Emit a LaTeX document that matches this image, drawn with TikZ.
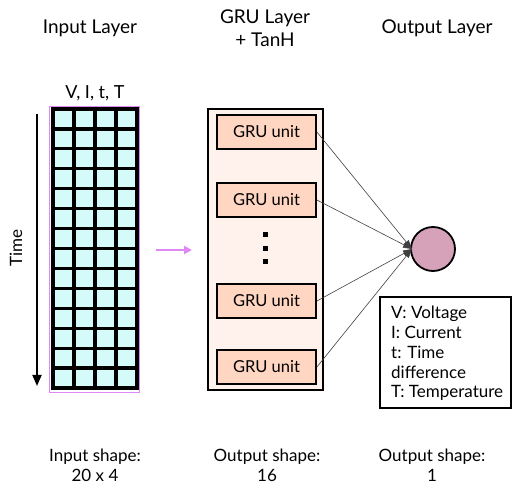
\documentclass[tikz,border=0pt]{standalone}
\usepackage{fontspec}
\setmainfont{Lato}
\usetikzlibrary{arrows.meta}
\definecolor{cellc}{HTML}{D4FAFA}
\definecolor{gruout}{HTML}{FFF1EC}
\definecolor{gruin}{HTML}{FFD6C2}
\definecolor{outc}{HTML}{D6A2BA}
\definecolor{pinkc}{HTML}{DD88F5}
\tikzset{
  title/.style={font=\fontsize{19}{23}\selectfont, align=center},
  shapelbl/.style={font=\fontsize{17}{20}\selectfont, align=center},
  gruunit/.style={draw, line width=1.8pt, fill=gruin, minimum width=99pt, minimum height=34pt, inner sep=0pt, font=\fontsize{16.5}{19}\selectfont},
  conn/.style={draw=black!75, line width=0.6pt, -{Triangle[length=9pt,width=6pt]}},
}
\begin{document}
\begin{tikzpicture}[x=1pt,y=-1pt]
\useasboundingbox (0,0) rectangle (512,489);
% titles
\node[title] (t1) at (90,28) {Input Layer};
\node[title] (t2) at (265,28) {GRU Layer\\+ TanH};
\node[title] (t3) at (437,28) {Output Layer};
% input grid
\node[font=\fontsize{18}{21}\selectfont] (vitt) at (95,93) {V, I, t, T};
\draw[pinkc, line width=0.8pt] (49,106) rectangle (139,392);
\fill[cellc] (53,109) rectangle (137,388);
\foreach \i in {0,...,4} {
  \draw[line width=3.2pt] ({53+21*\i},109) -- ({53+21*\i},388);
}
\foreach \j in {0,...,14} {
  \draw[line width=3.2pt] (51.4,{109+279/14*\j}) -- (138.6,{109+279/14*\j});
}
% time arrow
\coordinate (ta) at (37,114);
\coordinate (tb) at (37,386);
\draw[line width=1.8pt, -{Triangle[length=11pt,width=9pt]}] (ta) -- (tb);
\node[rotate=90, font=\fontsize{17}{20}\selectfont] (time) at (16,248) {Time};
% pink arrow
\coordinate (pa) at (156,250);
\coordinate (pb) at (192,250);
\draw[pinkc, line width=1.8pt, -{Triangle[length=8pt,width=8pt]}] (pa) -- (pb);
% GRU layer
\node[draw, line width=1.8pt, fill=gruout, minimum width=115pt, minimum height=281pt, inner sep=0pt] (gru) at (265.5,249.5) {};
\node[gruunit] (u1) at (266.5,132) {GRU unit};
\node[gruunit] (u2) at (266.5,200) {GRU unit};
\node[gruunit] (u3) at (266.5,301) {GRU unit};
\node[gruunit] (u4) at (266.5,367) {GRU unit};
\foreach \y in {235,248.5,262} {
  \fill (262.5,{\y-2.5}) rectangle (267.5,{\y+2.5});
}
% output
\node[circle, draw, line width=1.8pt, fill=outc, minimum size=44pt, inner sep=0pt] (out) at (433,249) {};
\coordinate (tip) at (412,249);
\foreach \u in {u1,u2,u3,u4} {
  \draw[conn] (\u.east) -- (tip);
}
% legend
\node[draw, line width=1.8pt, minimum width=131pt, minimum height=111pt, inner sep=0pt] (leg) at (445.5,352.5) {};
\node[anchor=north west, align=left, inner sep=0pt, font=\fontsize{17}{19.8}\selectfont] (legtxt) at (391,306) {V: Voltage\\I: Current\\t: Time\\difference\\T: Temperature};
% bottom labels
\node[shapelbl] (b1) at (95,465) {Input shape:\\20 x 4};
\node[shapelbl] (b2) at (267,465) {Output shape:\\16};
\node[shapelbl] (b3) at (432,465) {Output shape:\\1};
\end{tikzpicture}
\end{document}
